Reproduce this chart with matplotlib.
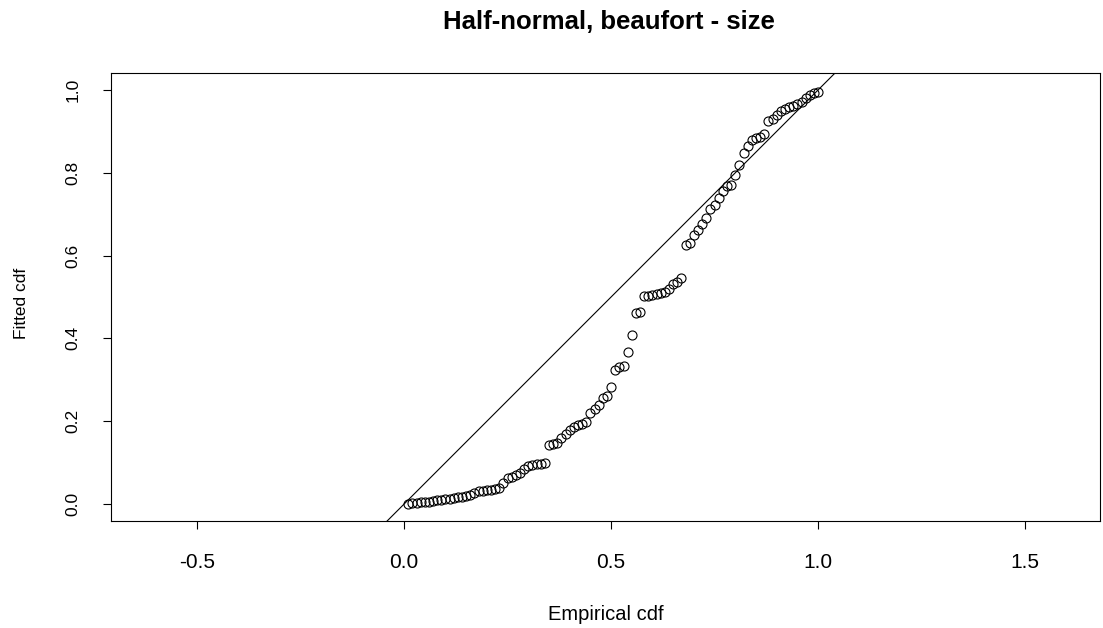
import numpy as np
import matplotlib.pyplot as plt

plt.rcParams['font.family'] = ['Liberation Sans', 'DejaVu Sans']

########################## data ####################################
n = 100
empirical = np.arange(1, n + 1) / n
fitted = [
    0.001, 0.002, 0.003, 0.004, 0.005, 0.006, 0.007, 0.009, 0.010, 0.011,
    0.013, 0.015, 0.016, 0.017, 0.019, 0.022, 0.027, 0.031, 0.032, 0.033,
    0.034, 0.036, 0.038, 0.050, 0.062, 0.066, 0.071, 0.074, 0.085, 0.093,
    0.095, 0.096, 0.097, 0.099, 0.143, 0.145, 0.148, 0.160, 0.170, 0.178,
    0.186, 0.190, 0.194, 0.198, 0.221, 0.230, 0.240, 0.256, 0.260, 0.283,
    0.324, 0.330, 0.333, 0.367, 0.408, 0.461, 0.464, 0.502, 0.503, 0.505,
    0.507, 0.510, 0.513, 0.519, 0.531, 0.537, 0.546, 0.626, 0.630, 0.650,
    0.663, 0.676, 0.692, 0.712, 0.722, 0.740, 0.755, 0.768, 0.771, 0.795,
    0.820, 0.847, 0.865, 0.879, 0.883, 0.887, 0.893, 0.925, 0.930, 0.940,
    0.950, 0.955, 0.958, 0.962, 0.965, 0.972, 0.980, 0.988, 0.992, 0.995,
]
xticks = [-0.5, 0.0, 0.5, 1.0, 1.5]
yticks = [0.0, 0.2, 0.4, 0.6, 0.8, 1.0]

########################## plot ####################################
fig = plt.figure(figsize=(11.03, 6.28), dpi=100)
ax = fig.add_axes([111/1103, 1-521/628, (1100-111)/1103, (521-73)/628])

ax.plot(empirical, fitted, 'o', mfc='none', mec='black', ms=6.5, mew=0.8)
ax.axline((0, 0), slope=1, color='black', lw=0.8)

ax.set_xlim(-0.708, 1.681)
ax.set_ylim(-0.041, 1.041)
ax.set_xticks(xticks)
ax.set_xticklabels(['%.1f' % t for t in xticks])
ax.set_yticks(yticks)
ax.set_yticklabels(['%.1f' % t for t in yticks], rotation=90, va='center')
ax.tick_params(axis='both', direction='out', length=6, width=0.8)
ax.tick_params(axis='x', pad=17, labelsize=15)
ax.tick_params(axis='y', pad=16, labelsize=12.5)
for s in ax.spines.values():
    s.set_linewidth(0.8)

fig.text(609/1103, 1-22/628, 'Half-normal, beaufort - size', ha='center', va='center',
         fontsize=18.5, fontweight='bold')
fig.text(606/1103, 1-614/628, 'Empirical cdf', ha='center', va='center', fontsize=14.5)
fig.text(22/1103, 1-303/628, 'Fitted cdf', ha='center', va='center', fontsize=12.5, rotation=90)

fig.savefig('out.png', dpi=100)
